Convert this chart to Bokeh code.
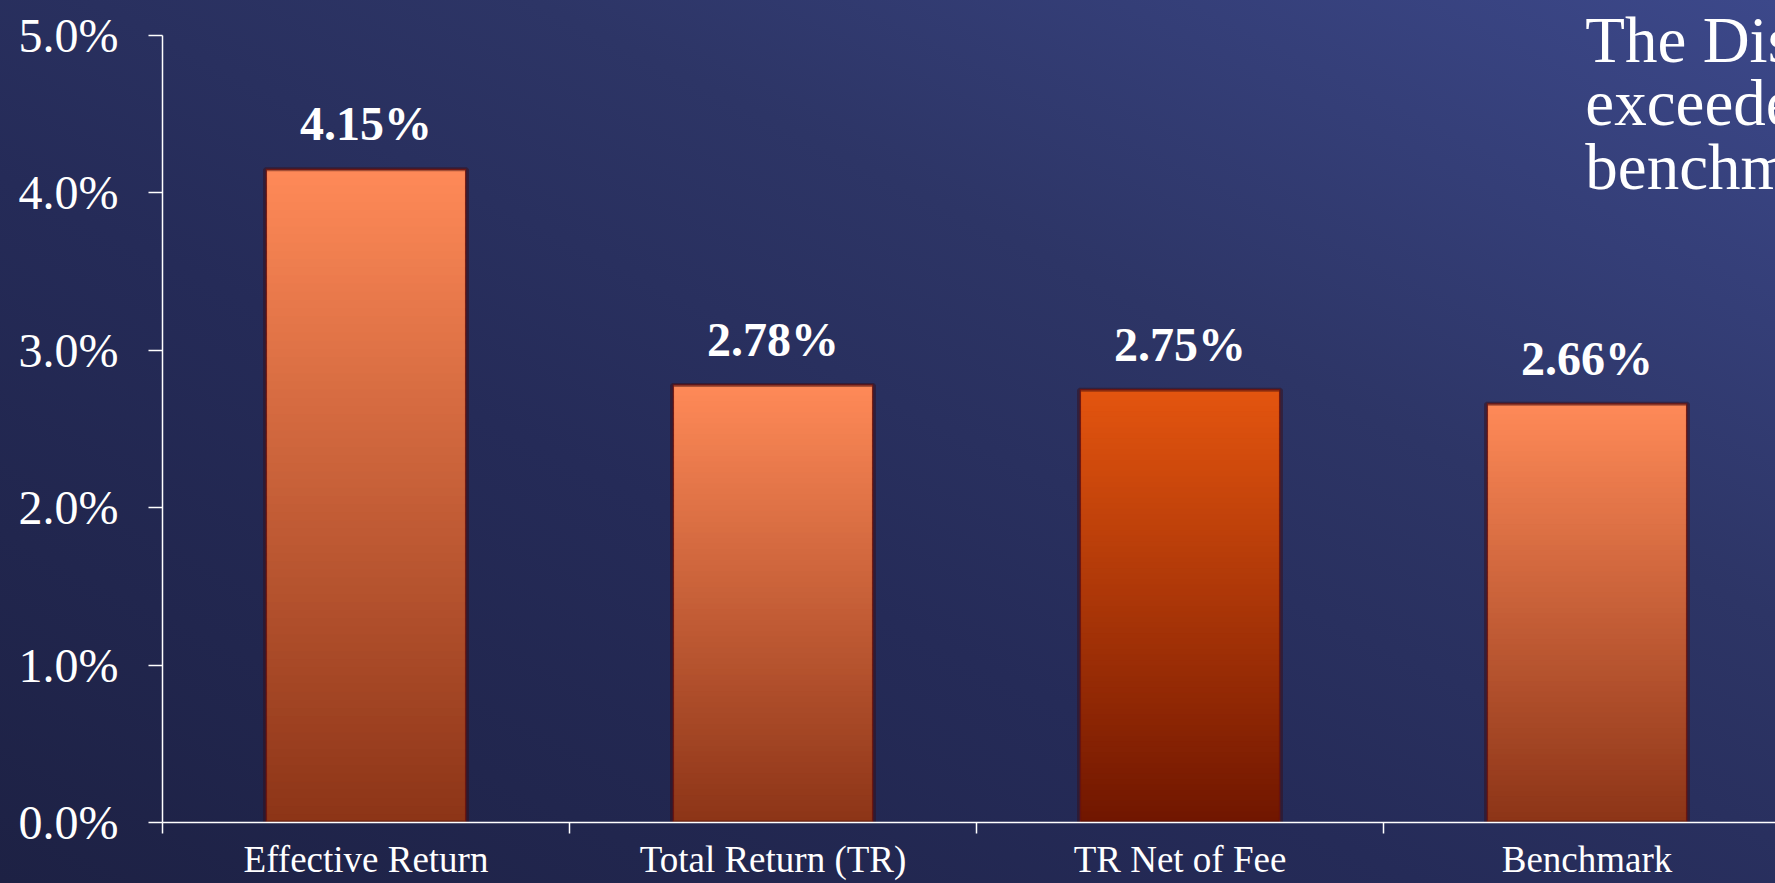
import numpy as np
from bokeh.plotting import figure
from bokeh.models import (Range1d, FixedTicker, ColumnDataSource, LabelSet, Label,
                          GlobalInlineStyleSheet)
from bokeh.core.properties import value
from bokeh.embed import file_html
from bokeh.resources import INLINE

# ---- data ----
categories = ["Effective Return", "Total Return (TR)", "TR Net of Fee", "Benchmark"]
returns = [4.15, 2.78, 2.75, 2.66]
value_labels = ["4.15%", "2.78%", "2.75%", "2.66%"]
y_ticks = [0, 1, 2, 3, 4, 5]
y_tick_labels = ["0.0%", "1.0%", "2.0%", "3.0%", "4.0%", "5.0%"]
note_lines = ["The Distribution", "exceeded the", "benchmark"]

# ---- styles ----
FONT = "Liberation Serif"
bar_styles = [("#ff8a58", "#8c3417"), ("#ff8a58", "#8c3417"),
              ("#e4550f", "#701600"), ("#ff8a58", "#8c3417")]
N_SEG = 80
BAR_W = 0.49

def hex2rgb(h):
    h = h.lstrip("#")
    return np.array([int(h[i:i + 2], 16) for i in (0, 2, 4)], dtype=float)

def mix(c0, c1, f):
    a, b = hex2rgb(c0), hex2rgb(c1)
    c = a + (b - a) * f
    return "#%02x%02x%02x" % tuple(int(round(x)) for x in c)

css = """
html { height: 100%; min-height: 100%;
  background: linear-gradient(to top right, #1d2144 0%, #252b58 40%, #2d3566 65%, #3c488a 100%) fixed; }
body { background: transparent; }
"""

W, H = 1775, 883
LEFT, BOTTOM = 162, 61
AXIS_TOP_PX = 35          # screen position of the 5.0% tick
CAT_PX = 407.0
plot_h = H - BOTTOM
px_per_unit = (plot_h - AXIS_TOP_PX) / float(y_ticks[-1])
y_end = plot_h / px_per_unit

p = figure(width=W, height=H, output_backend="svg", toolbar_location=None,
           x_range=Range1d(0, (W - LEFT) / CAT_PX), y_range=Range1d(0, y_end),
           min_border_left=LEFT, min_border_right=0, min_border_top=0,
           min_border_bottom=BOTTOM)
p.stylesheets = [GlobalInlineStyleSheet(css=css)]
p.border_fill_alpha = 0
p.background_fill_alpha = 0
p.outline_line_color = None
p.grid.visible = False

# gradient bars built from the values (segments slightly overlap to avoid seams)
xs, bots, tops, cols = [], [], [], []
for i, v in enumerate(returns):
    top_c, bot_c = bar_styles[i]
    for k in range(N_SEG):
        xs.append(i + 0.5)
        bots.append(v * k / N_SEG)
        tops.append(min(v, v * (k + 1.6) / N_SEG))
        cols.append(mix(bot_c, top_c, (k + 0.5) / N_SEG))
seg_src = ColumnDataSource(dict(x=xs, bottom=bots, top=tops, color=cols))
p.vbar(x="x", bottom="bottom", top="top", width=BAR_W, fill_color="color",
       line_color=None, source=seg_src)

bar_src = ColumnDataSource(dict(x=[i + 0.5 for i in range(len(returns))], top=returns,
                                label=value_labels))
# soft dark edge
p.vbar(x="x", top="top", bottom=0, width=BAR_W + 0.006, fill_alpha=0,
       line_color="#3a0c10", line_alpha=0.45, line_width=4, source=bar_src)
p.vbar(x="x", top="top", bottom=0, width=BAR_W, fill_alpha=0,
       line_color="#6e1410", line_alpha=0.9, line_width=1.2, source=bar_src)

# value labels
p.add_layout(LabelSet(x="x", y="top", text="label", source=bar_src, y_offset=29,
                      text_align="center", text_baseline="alphabetic",
                      text_font=value(FONT), text_font_size="48px", text_font_style="bold",
                      text_color="white"))

# note text at top right
note_y = [4.974, 4.574, 4.167]
for line, yy in zip(note_lines, note_y):
    p.add_layout(Label(x=3.496, y=yy, text=line, text_font=FONT, text_font_size="65px",
                       text_color="white", text_baseline="alphabetic", text_align="left"))

# axes
ya = p.yaxis[0]
ya.bounds = (y_ticks[0], y_ticks[-1])
ya.ticker = FixedTicker(ticks=y_ticks, minor_ticks=[])
ya.major_label_overrides = {t: l for t, l in zip(y_ticks, y_tick_labels)}
ya.axis_line_color = "white"
ya.axis_line_width = 1.5
ya.major_tick_line_color = "white"
ya.major_tick_line_width = 1.5
ya.major_tick_out = 14
ya.major_tick_in = 0
ya.major_label_standoff = 30
ya.major_label_text_font = FONT
ya.major_label_text_font_size = "48px"
ya.major_label_text_color = "white"

cat_centers = [i + 0.5 for i in range(len(categories))]
xa = p.xaxis[0]
xa.ticker = FixedTicker(ticks=cat_centers, minor_ticks=list(range(len(categories))))
xa.major_label_overrides = {c: n for c, n in zip(cat_centers, categories)}
xa.major_label_text_font = FONT
xa.major_label_text_font_size = "37px"
xa.major_label_text_color = "white"
xa.major_label_standoff = 5
xa.axis_line_color = "white"
xa.axis_line_width = 1.5
xa.major_tick_line_color = None
xa.major_tick_out = 0
xa.major_tick_in = 0
xa.minor_tick_line_color = "white"
xa.minor_tick_line_width = 1.5
xa.minor_tick_out = 11
xa.minor_tick_in = 0

open("out.html", "w").write(file_html(p, INLINE))
